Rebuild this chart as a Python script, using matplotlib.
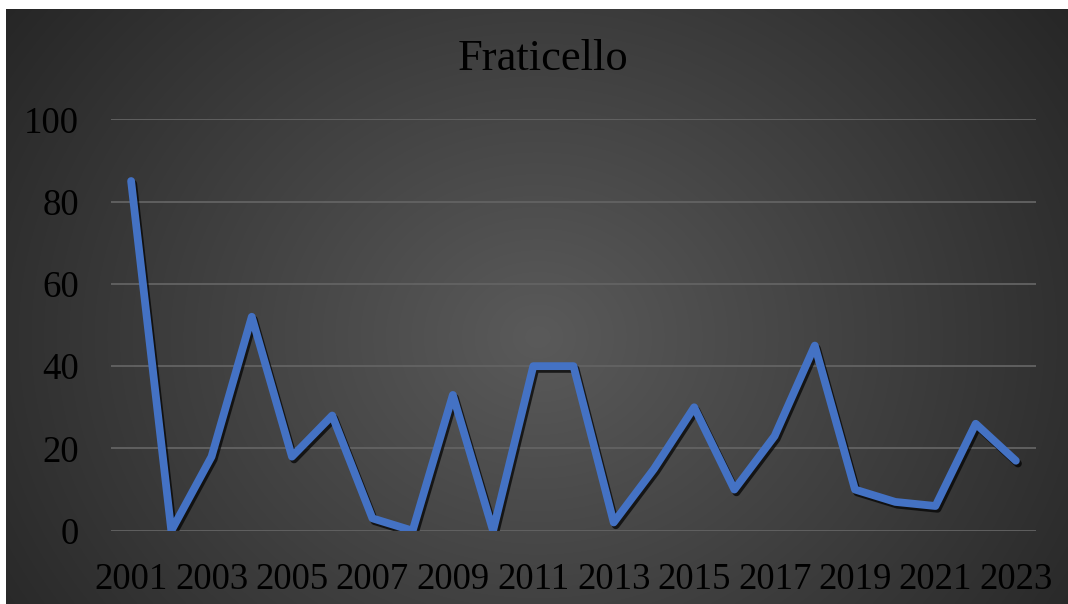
import numpy as np
import matplotlib
matplotlib.use("Agg")
import matplotlib.pyplot as plt
import matplotlib.patheffects as pe

years = [str(y) for y in range(2001, 2024)]
values = [85, 0, 18, 52, 18, 28, 3, 0, 33, 0, 40, 40, 2, 15, 30, 10, 23, 45, 10, 7, 6, 26, 17]
yticks = [0, 20, 40, 60, 80, 100]

plt.rcParams['font.family'] = ['Liberation Serif', 'DejaVu Serif']

fig = plt.figure(figsize=(10.68, 6.04), dpi=100)
fig.patch.set_facecolor("white")

# radial gradient background (chart area leaves a thin white strip top/left)
bg = fig.add_axes([6 / 1068, 0, 1 - 6 / 1068, 1 - 9 / 604])
bg.set_axis_off()
h, w = 300, 530
yy, xx = np.mgrid[0:h, 0:w]
cx, cy = w * 0.5, h * 0.55
d = np.sqrt(((xx - cx) / (w * 0.62)) ** 2 + ((yy - cy) / (h * 0.95)) ** 2)
d = np.clip(d, 0, 1)
shade = 0x5a / 255 - (0x5a - 0x26) / 255 * d
img = np.dstack([shade, shade, shade])
bg.imshow(img, aspect="auto", extent=[0, 1, 0, 1], interpolation="bilinear")
bg.set_xlim(0, 1)
bg.set_ylim(0, 1)

ax = fig.add_axes([111 / 1068, 1 - 530.7 / 604, (1036 - 111) / 1068, (530.7 - 119.3) / 604])
ax.patch.set_alpha(0)
x = np.arange(len(years))
ax.plot(x, values, color="#4472C4", lw=5.6, solid_joinstyle="round", solid_capstyle="round",
        path_effects=[pe.SimpleLineShadow(offset=(1.5, -2), shadow_color="black", alpha=0.7),
                      pe.Normal()], zorder=3)

ax.set_xlim(-0.5, len(years) - 0.5)
ax.set_ylim(0, 100)
ax.set_yticks(yticks)
ax.set_xticks(x[::2])
ax.set_xticklabels(years[::2])
ax.grid(axis="y", color="#636363", lw=1.3)
ax.set_axisbelow(True)
for s in ax.spines.values():
    s.set_visible(False)
ax.tick_params(length=0, labelsize=26.5, labelcolor="black")
ax.tick_params(axis="x", pad=23)
ax.tick_params(axis="y", pad=23)

fig.text(543 / 1068, 1 - 70 / 604, "Fraticello", ha="center", va="baseline", fontsize=32, color="black")

fig.savefig("out.png", dpi=100)
